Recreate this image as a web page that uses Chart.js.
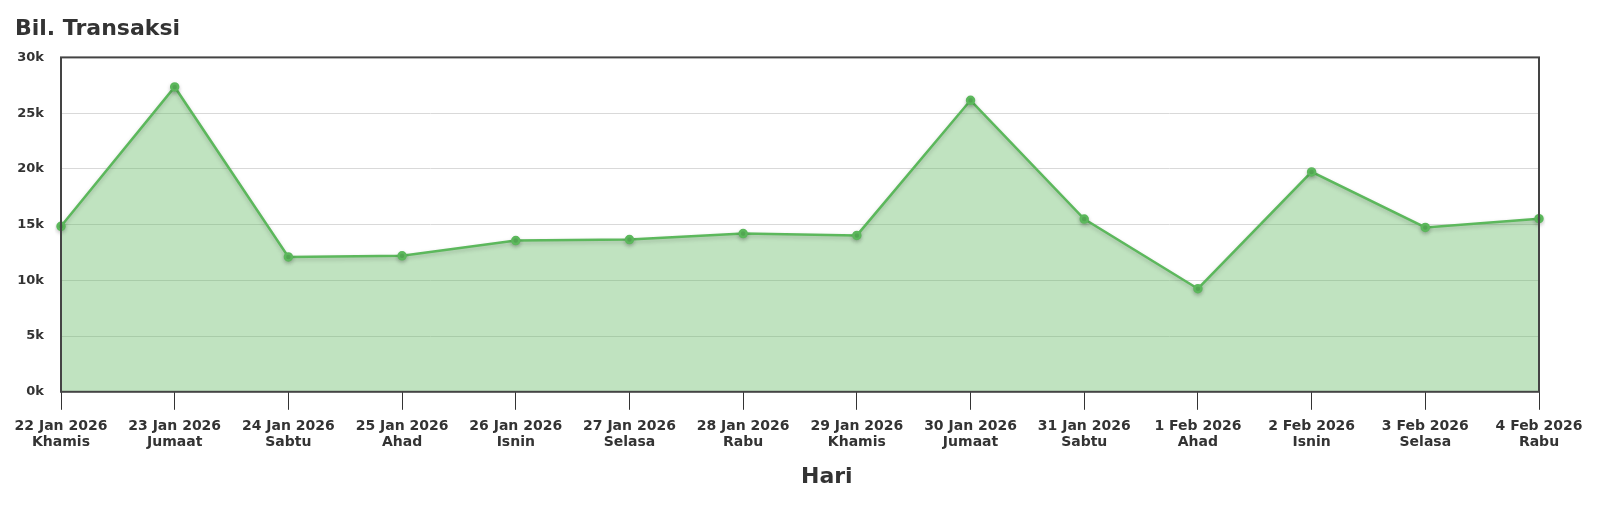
<!DOCTYPE html>
<html>
<head>
<meta charset="utf-8">
<script src="https://cdn.jsdelivr.net/npm/chart.js@4/dist/chart.umd.min.js"></script>
<style>
  html, body { margin: 0; padding: 0; background: #fff; }
  #wrap { width: 1600px; height: 523px; }
</style>
</head>
<body>
<div id="wrap"><canvas id="trxChart"></canvas></div>
<script>
// Daily transaction counts
const dates = ['22 Jan 2026', '23 Jan 2026', '24 Jan 2026', '25 Jan 2026', '26 Jan 2026', '27 Jan 2026', '28 Jan 2026',
  '29 Jan 2026', '30 Jan 2026', '31 Jan 2026', '1 Feb 2026', '2 Feb 2026', '3 Feb 2026', '4 Feb 2026'];
const days = ['Khamis', 'Jumaat', 'Sabtu', 'Ahad', 'Isnin', 'Selasa', 'Rabu',
  'Khamis', 'Jumaat', 'Sabtu', 'Ahad', 'Isnin', 'Selasa', 'Rabu'];
const transactions = [14850, 27350, 12100, 12200, 13570, 13660, 14200, 14030, 26150, 15500, 9250, 19730, 14750, 15530];

const labels = dates.map((d, i) => [d, days[i]]);

// soft drop shadow under the line
const shadowPlugin = {
  id: 'lineShadow',
  beforeDatasetDraw(chart) {
    const ctx = chart.ctx;
    ctx.save();
    ctx.shadowColor = 'rgba(0,0,0,0.2)';
    ctx.shadowBlur = 4;
    ctx.shadowOffsetY = 2;
  },
  afterDatasetDraw(chart) {
    chart.ctx.restore();
  }
};

// box around the plot area
const framePlugin = {
  id: 'frame',
  afterDraw(chart) {
    const { ctx, chartArea: a } = chart;
    ctx.save();
    ctx.strokeStyle = '#444';
    ctx.lineWidth = 2;
    ctx.strokeRect(a.left, a.top, a.right - a.left, a.bottom - a.top);
    ctx.restore();
  }
};

const font = { family: 'DejaVu Sans', weight: 'bold' };

window.addEventListener('DOMContentLoaded', () => {
  const ctx = document.getElementById('trxChart').getContext('2d');
  new Chart(ctx, {
    type: 'line',
    data: {
      labels: labels,
      datasets: [{
        label: 'Bil. Transaksi',
        data: transactions,
        borderColor: '#5cb85c',
        backgroundColor: 'rgba(92,184,92,0.39)',
        pointBackgroundColor: '#5cb85c',
        pointBorderColor: '#5cb85c',
        pointRadius: 3.5,
        borderWidth: 2.5,
        fill: 'origin',
        tension: 0
      }]
    },
    options: {
      responsive: true,
      maintainAspectRatio: false,
      animation: false,
      layout: { padding: { left: 15, right: 61, top: 0, bottom: 29 } },
      plugins: {
        legend: { display: false },
        tooltip: { enabled: false },
        title: {
          display: true,
          text: 'Bil. Transaksi',
          align: 'start',
          color: '#333',
          font: { ...font, size: 22 },
          padding: { top: 16, bottom: 15 }
        }
      },
      scales: {
        x: {
          offset: false,
          grid: { drawOnChartArea: false, drawTicks: true, tickLength: 18, color: '#333', lineWidth: 1 },
          border: { display: false },
          ticks: { color: '#333', font: { ...font, size: 14, lineHeight: 1.1 }, maxRotation: 0, autoSkip: false, padding: 9 },
          title: { display: true, text: '\u00a0\u00a0\u00a0\u00a0\u00a0\u00a0\u00a0Hari', color: '#333', font: { ...font, size: 22 }, padding: { top: 5 } }
        },
        y: {
          min: 0,
          max: 30000,
          afterFit(scale) { scale.width = 46; },
          grid: { color: '#d9d9d9', drawTicks: false, lineWidth: 1 },
          border: { display: false },
          ticks: {
            stepSize: 5000,
            color: '#333',
            padding: 17,
            font: { ...font, size: 13 },
            callback: v => (v / 1000) + 'k'
          }
        }
      }
    },
    plugins: [shadowPlugin, framePlugin]
  });
});
</script>
</body>
</html>
